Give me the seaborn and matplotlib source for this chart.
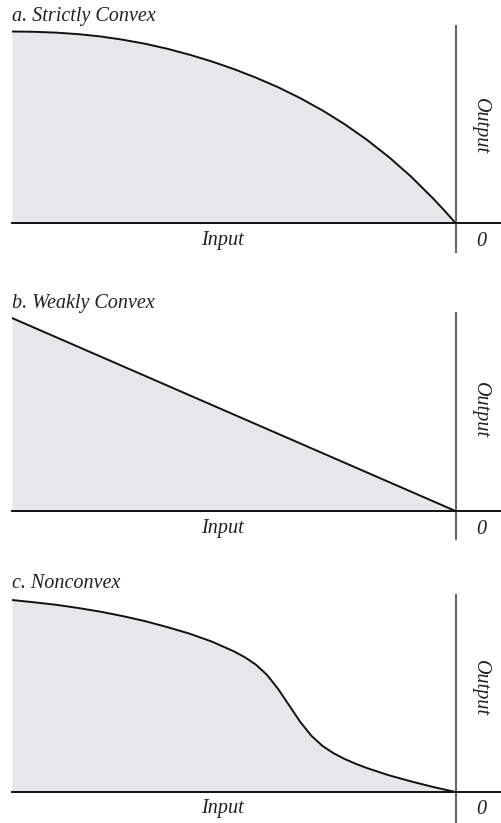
import numpy as np
import pandas as pd
import matplotlib.pyplot as plt
import seaborn as sns

# Input (0 = left edge, 1 = the origin at the right) and output, scaled to the curve top
strict_x = [0.0, 0.05, 0.10, 0.15, 0.20, 0.25, 0.30, 0.35, 0.40, 0.45, 0.50,
            0.55, 0.60, 0.65, 0.70, 0.75, 0.80, 0.85, 0.90, 0.95, 0.975, 1.0]
strict_y = [1.0, 0.9985, 0.994, 0.986, 0.974, 0.957, 0.936, 0.910, 0.879, 0.844, 0.804,
            0.759, 0.709, 0.652, 0.588, 0.516, 0.435, 0.344, 0.242, 0.127, 0.065, 0.0]

weak_x = [0.0, 1.0]
weak_y = [1.0, 0.0]

noncvx_x = [0.0, 0.05, 0.10, 0.15, 0.20, 0.25, 0.30, 0.35, 0.40, 0.45, 0.50, 0.525,
            0.55, 0.575, 0.60, 0.625, 0.65, 0.675, 0.70, 0.725, 0.75, 0.775, 0.80,
            0.85, 0.90, 0.95, 1.0]
noncvx_y = [1.0, 0.988, 0.975, 0.958, 0.939, 0.916, 0.890, 0.859, 0.825, 0.784, 0.733,
            0.702, 0.663, 0.610, 0.537, 0.451, 0.365, 0.293, 0.240, 0.202, 0.172,
            0.147, 0.125, 0.087, 0.055, 0.026, 0.0]

titles = ["a. Strictly Convex", "b. Weakly Convex", "c. Nonconvex"]

W, H = 501, 823
FILL = "#e6e7e8"
FONT = dict(family="Liberation Serif", style="italic", size=14.5, color="#222222")

# pixel layout of each panel: baseline, curve top, vertical axis top/bottom, title baseline
panels = [
    dict(x=strict_x, y=strict_y, base=223, top=31.5, vtop=26, vbot=252, ttl=21, out=126),
    dict(x=weak_x, y=weak_y, base=511, top=318, vtop=313, vbot=539, ttl=308, out=410),
    dict(x=noncvx_x, y=noncvx_y, base=792, top=600, vtop=595, vbot=823, ttl=588, out=688),
]

sns.set_style("white")

fig = plt.figure(figsize=(W / 100, H / 100), dpi=100)

x_left, x_zero, x_right = 12, 455.5, 501

for title, p in zip(titles, panels):
    unit = p["base"] - p["top"]
    ax = fig.add_axes([x_left / W, 1 - p["vbot"] / H,
                       (x_right - x_left) / W, (p["vbot"] - p["vtop"]) / H])
    df = pd.DataFrame({"input": p["x"], "output": p["y"]})
    ax.fill_between(df["input"], df["output"], 0, color=FILL, lw=0)
    sns.lineplot(data=df, x="input", y="output", ax=ax, color="#111111", lw=1.4,
                 sort=False, estimator=None)
    ax.set_xlim(0, (x_right - x_left) / (x_zero - x_left))
    ax.set_ylim((p["base"] - p["vbot"]) / unit, (p["base"] - p["vtop"]) / unit)

    for s in ["top", "left"]:
        ax.spines[s].set_visible(False)
    ax.spines["bottom"].set_position(("data", 0))
    ax.spines["bottom"].set_color("#111111")
    ax.spines["bottom"].set_linewidth(1.4)
    ax.spines["right"].set_position(("data", 1))
    ax.spines["right"].set_color("#666666")
    ax.spines["right"].set_linewidth(1.5)
    ax.set_xticks([])
    ax.set_yticks([])
    ax.set_xlabel("")
    ax.set_ylabel("")

    fig.text(x_left / W, 1 - p["ttl"] / H, title, ha="left", va="baseline", **FONT)
    fig.text(222 / W, 1 - (p["base"] + 17) / H, "Input", ha="center", va="center", **FONT)
    fig.text(481 / W, 1 - (p["base"] + 18) / H, "0", ha="center", va="center", **FONT)
    fig.text(480 / W, 1 - p["out"] / H, "Output", ha="center", va="center",
             rotation=-90, **FONT)

fig.savefig("out.png", dpi=100)
